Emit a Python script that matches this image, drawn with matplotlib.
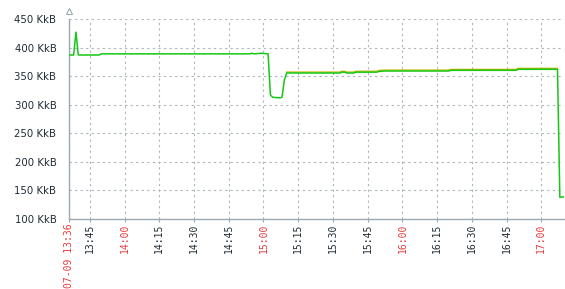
import matplotlib
matplotlib.use("Agg")
import matplotlib.pyplot as plt
import matplotlib.transforms as mtrans
from datetime import datetime, timedelta

times = ["13:36", "13:38", "13:39", "13:40", "13:49", "13:50", "14:54", "14:55",
         "14:56", "14:59", "15:02", "15:03", "15:04", "15:07", "15:08", "15:09",
         "15:10", "15:33", "15:34", "15:35", "15:36", "15:39", "15:40", "15:49",
         "15:50", "15:51", "15:52", "16:20", "16:21", "16:49", "16:50", "17:07",
         "17:08", "17:10"]
values = [387, 387, 427, 387, 387, 389, 389, 390,
          389, 390, 389, 317, 313, 312, 313, 343,
          355.5, 355.5, 357, 357, 355.5, 355.5, 357, 357,
          358.5, 358.5, 359, 359, 360.2, 360.2, 362, 362,
          138, 139]

y_ticks = [100, 150, 200, 250, 300, 350, 400, 450]
tick_times = ["13:36", "13:45", "14:00", "14:15", "14:30", "14:45", "15:00", "15:15",
              "15:30", "15:45", "16:00", "16:15", "16:30", "16:45", "17:00"]

day = "2024-07-09 "
to_dt = lambda s: datetime.strptime(day + s, "%Y-%m-%d %H:%M")
xs = [to_dt(t) for t in times]
xt = [to_dt(t) for t in tick_times]

fig = plt.figure(figsize=(5.65, 2.89), dpi=100)
ax = fig.add_axes([69 / 565, 70 / 289, 495 / 565, 200 / 289])

# olive max trace peeking out above the green avg line after the dip
off = mtrans.offset_copy(ax.transData, fig=fig, x=0, y=0.7, units="points")
ax.plot(xs[16:32], values[16:32], color="#c8b400", lw=0.9, transform=off, zorder=2)
ax.plot(xs, values, color="#14c814", lw=1.1, zorder=3)

ax.set_ylim(100, 450)
ax.set_xlim(to_dt("13:36"), to_dt("13:36") + timedelta(minutes=213.8))
ax.set_yticks(y_ticks)
ax.set_yticklabels([f"{v} KkB" for v in y_ticks])
ax.set_xticks(xt)
labels = []
for t in tick_times:
    labels.append("07-09 " + t if t == "13:36" else t)
ax.set_xticklabels(labels, rotation=90, family="DejaVu Sans Mono", fontsize=7.0)
for lab, t in zip(ax.get_xticklabels(), tick_times):
    lab.set_color("#e83c3c" if (t.endswith(":00") or t == "13:36") else "#1f2c33")
    lab.set_verticalalignment("top")

ax.tick_params(axis="y", length=0, pad=9, labelsize=7.3, labelcolor="#1f2c33")
ax.tick_params(axis="x", length=2, pad=1.5, color="#9aabb5")

ax.grid(True, color="#aab6be", linestyle=(0, (2, 3)), linewidth=0.8)
for s in ["top", "right"]:
    ax.spines[s].set_visible(False)
for s in ["left", "bottom"]:
    ax.spines[s].set_color("#9aabb5")
    ax.spines[s].set_linewidth(1.0)

# open arrow at top of y axis
ax.plot([0], [1.04], marker="^", markersize=5, markerfacecolor="white",
        markeredgecolor="#9aabb5", markeredgewidth=0.8, transform=ax.transAxes, clip_on=False)

fig.savefig("out.png", dpi=100)
